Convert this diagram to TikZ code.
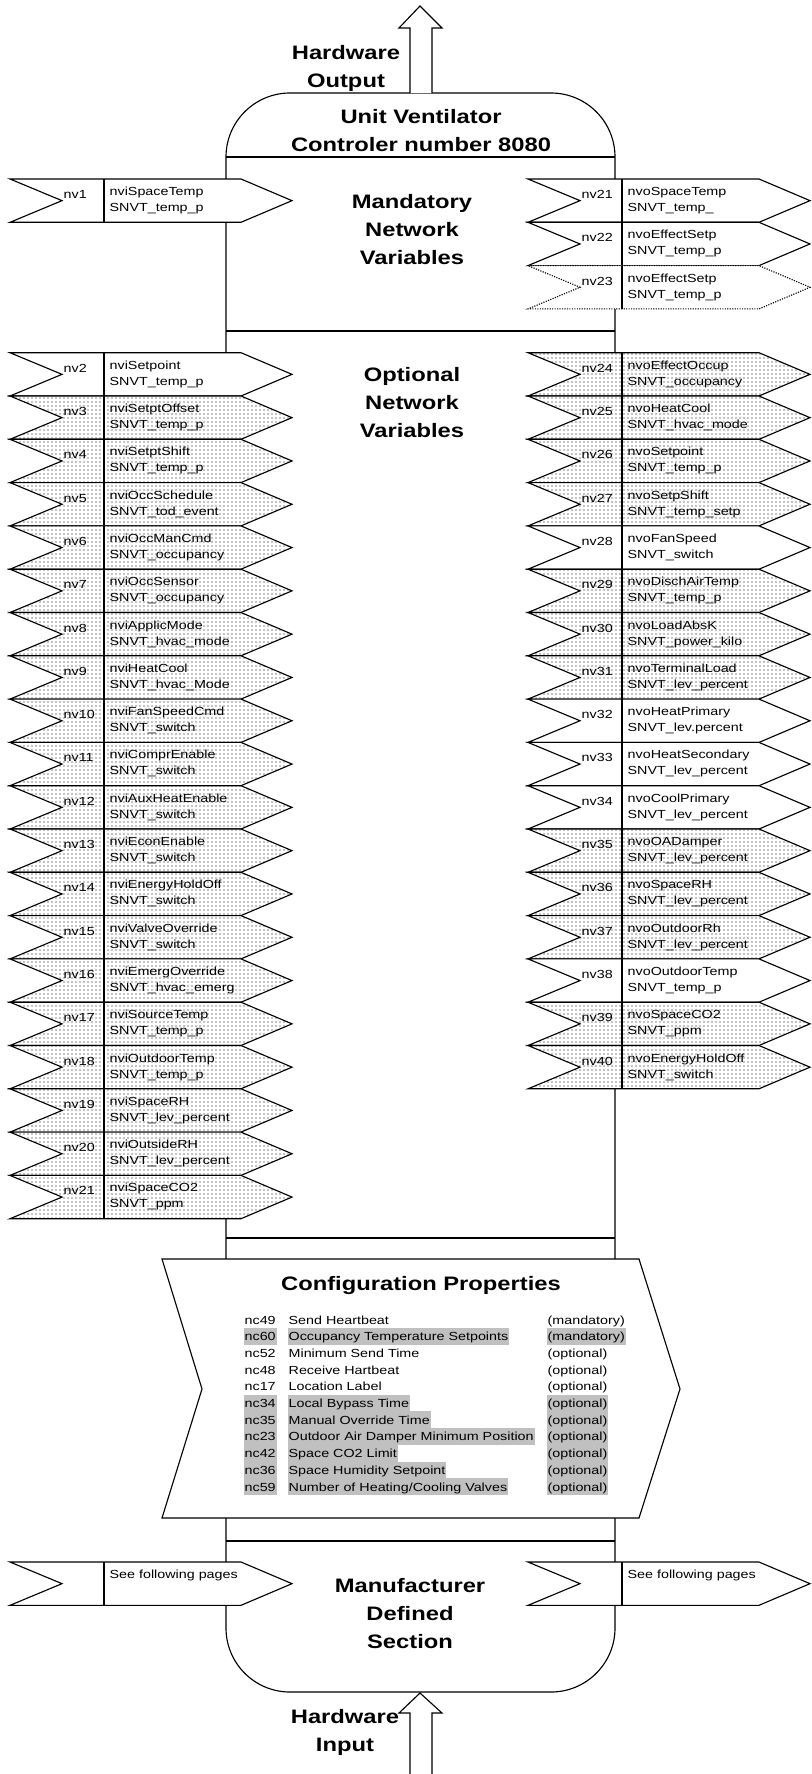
\documentclass[tikz,border=0pt]{standalone}
\usepackage{fontspec}
\setmainfont{Liberation Sans}
\usepackage{xcolor}
\usepackage{tikz}
\usetikzlibrary{patterns,positioning}
\definecolor{hlgray}{RGB}{192,192,192}

\tikzset{
  nvtext/.style={font=\fontsize{8.8pt}{12pt}\selectfont, inner sep=0pt, xscale=1.22},
  headtext/.style={font=\fontsize{14.6pt}{21pt}\selectfont\bfseries, align=center, inner sep=0pt, xscale=1.22},
  plainflag/.style={draw, fill=white},
  dotflag/.style={draw, preaction={fill=white}, pattern=dots, pattern color=black},
  optflag/.style={draw, densely dotted, fill=white},
  cfgtext/.style={nvtext, anchor=base west, text height=9.6pt, text depth=3pt, inner xsep=0.6pt},
}

% one network variable flag: name, left x, top y, look, number, first and second line
\newcommand{\nvflag}[7]{%
  \draw[#4] (#2,#3) -- ++(231,0) -- ++(51,21.65) -- ++(-51,21.65) -- ++(-231,0) -- ++(52,-21.65) -- cycle;
  \draw (#2+94,#3) -- ++(0,43.3);
  \node[nvtext, anchor=base west] (#1-nv) at (#2+53,#3+19.5) {#5};
  \node[nvtext, anchor=base west] (#1-a) at (#2+99,#3+16.5) {#6};
  \node[nvtext, anchor=base west] (#1-b) at ([yshift=-12pt]#1-a.base west) {#7};
}

\begin{document}
\begin{tikzpicture}[x=0.75pt, y=-0.75pt, line width=0.85pt]
    \useasboundingbox (0,0) rectangle (811,1774);

    % controller body
    \draw[rounded corners=48pt] (226,93) rectangle (615,1692);
    \draw (226,157)--(615,157);
    \draw (226,331)--(615,331);
    \draw (226,1238)--(615,1238);
    \draw (226,1541)--(615,1541);

    % hardware arrows
    \draw[fill=white] (410,93)--(410,28)--(399,28)--(420,6)--(442,28)--(432,28)--(432,93);
    \draw[fill=white] (410,1774)--(410,1713)--(399,1713)--(420,1693)--(442,1713)--(432,1713)--(432,1774);

    % mandatory
    \nvflag{L1}{10}{179}{plainflag}{nv1}{nviSpaceTemp}{SNVT\_temp\_p}
    \nvflag{R21}{528}{179}{plainflag}{nv21}{nvoSpaceTemp}{SNVT\_temp\_}
    \nvflag{R22}{528}{222.3}{plainflag}{nv22}{nvoEffectSetp}{SNVT\_temp\_p}
    \nvflag{R23}{528}{265.6}{optflag}{nv23}{nvoEffectSetp}{SNVT\_temp\_p}

    % optional inputs
    \foreach \nv/\nm/\ty/\st [count=\i from 0] in {
        2/nviSetpoint/SNVT\_temp\_p/plainflag,
        3/nviSetptOffset/SNVT\_temp\_p/dotflag,
        4/nviSetptShift/SNVT\_temp\_p/dotflag,
        5/nviOccSchedule/SNVT\_tod\_event/dotflag,
        6/nviOccManCmd/SNVT\_occupancy/dotflag,
        7/nviOccSensor/SNVT\_occupancy/dotflag,
        8/nviApplicMode/SNVT\_hvac\_mode/dotflag,
        9/nviHeatCool/SNVT\_hvac\_Mode/dotflag,
        10/nviFanSpeedCmd/SNVT\_switch/dotflag,
        11/nviComprEnable/SNVT\_switch/dotflag,
        12/nviAuxHeatEnable/SNVT\_switch/dotflag,
        13/nviEconEnable/SNVT\_switch/dotflag,
        14/nviEnergyHoldOff/SNVT\_switch/dotflag,
        15/nviValveOverride/SNVT\_switch/dotflag,
        16/nviEmergOverride/SNVT\_hvac\_emerg/dotflag,
        17/nviSourceTemp/SNVT\_temp\_p/dotflag,
        18/nviOutdoorTemp/SNVT\_temp\_p/dotflag,
        19/nviSpaceRH/SNVT\_lev\_percent/dotflag,
        20/nviOutsideRH/SNVT\_lev\_percent/dotflag,
        21/nviSpaceCO2/SNVT\_ppm/dotflag}{
      \pgfmathsetmacro\yy{352.7+43.3*\i}
      \nvflag{L\nv}{10}{\yy}{\st}{nv\nv}{\nm}{\ty}
    }

    % optional outputs
    \foreach \nv/\nm/\ty/\st [count=\i from 0] in {
        24/nvoEffectOccup/SNVT\_occupancy/dotflag,
        25/nvoHeatCool/SNVT\_hvac\_mode/dotflag,
        26/nvoSetpoint/SNVT\_temp\_p/dotflag,
        27/nvoSetpShift/SNVT\_temp\_setp/dotflag,
        28/nvoFanSpeed/SNVT\_switch/plainflag,
        29/nvoDischAirTemp/SNVT\_temp\_p/dotflag,
        30/nvoLoadAbsK/SNVT\_power\_kilo/dotflag,
        31/nvoTerminalLoad/SNVT\_lev\_percent/dotflag,
        32/nvoHeatPrimary/SNVT\_lev.percent/plainflag,
        33/nvoHeatSecondary/SNVT\_lev\_percent/plainflag,
        34/nvoCoolPrimary/SNVT\_lev\_percent/plainflag,
        35/nvoOADamper/SNVT\_lev\_percent/dotflag,
        36/nvoSpaceRH/SNVT\_lev\_percent/dotflag,
        37/nvoOutdoorRh/SNVT\_lev\_percent/dotflag,
        38/nvoOutdoorTemp/SNVT\_temp\_p/plainflag,
        39/nvoSpaceCO2/SNVT\_ppm/dotflag,
        40/nvoEnergyHoldOff/SNVT\_switch/dotflag}{
      \pgfmathsetmacro\yy{352.7+43.3*\i}
      \nvflag{R\nv}{528}{\yy}{\st}{nv\nv}{\nm}{\ty}
    }

    % manufacturer section
    \nvflag{Lmfr}{10}{1562}{plainflag}{}{See following pages}{}
    \nvflag{Rmfr}{528}{1562}{plainflag}{}{See following pages}{}

    % configuration properties
    \draw[fill=white] (162,1259)--(639,1259)--(680,1389)--(639,1518)--(162,1518)--(202,1389)--cycle;
    \node[headtext, anchor=base] (cfgtitle) at (421,1290) {Configuration Properties};
    \foreach \nc/\nm/\req/\fc [count=\k from 0] in {
        nc49/Send Heartbeat/(mandatory)/none,
        nc60/Occupancy Temperature Setpoints/(mandatory)/hlgray,
        nc52/Minimum Send Time/(optional)/none,
        nc48/Receive Hartbeat/(optional)/none,
        nc17/Location Label/(optional)/none,
        nc34/Local Bypass Time/(optional)/hlgray,
        nc35/Manual Override Time/(optional)/hlgray,
        nc23/Outdoor Air Damper Minimum Position/(optional)/hlgray,
        nc42/Space CO2 Limit/(optional)/hlgray,
        nc36/Space Humidity Setpoint/(optional)/hlgray,
        nc59/{Number of Heating/Cooling Valves}/(optional)/hlgray}{
      \pgfmathsetmacro\yy{1324+16.7*\k}
      \node[cfgtext, fill=\fc] (\nc-id) at (243,\yy) {\nc};
      \node[cfgtext, fill=\fc] (\nc-nm) at (287,\yy) {\nm};
      \node[cfgtext, fill=\fc] (\nc-rq) at (546,\yy) {\req};
    }

    % section titles
    \node[headtext] (hwout) at (346,68) {Hardware\\Output};
    \node[headtext] (unit) at (421,131) {Unit Ventilator\\Controler number 8080};
    \node[headtext] (mand) at (412,230) {Mandatory\\Network\\Variables};
    \node[headtext] (opt) at (412,403) {Optional\\Network\\Variables};
    \node[headtext] (mfr) at (410,1614) {Manufacturer\\Defined\\Section};
    \node[headtext] (hwin) at (345,1732) {Hardware\\Input};
\end{tikzpicture}
\end{document}
